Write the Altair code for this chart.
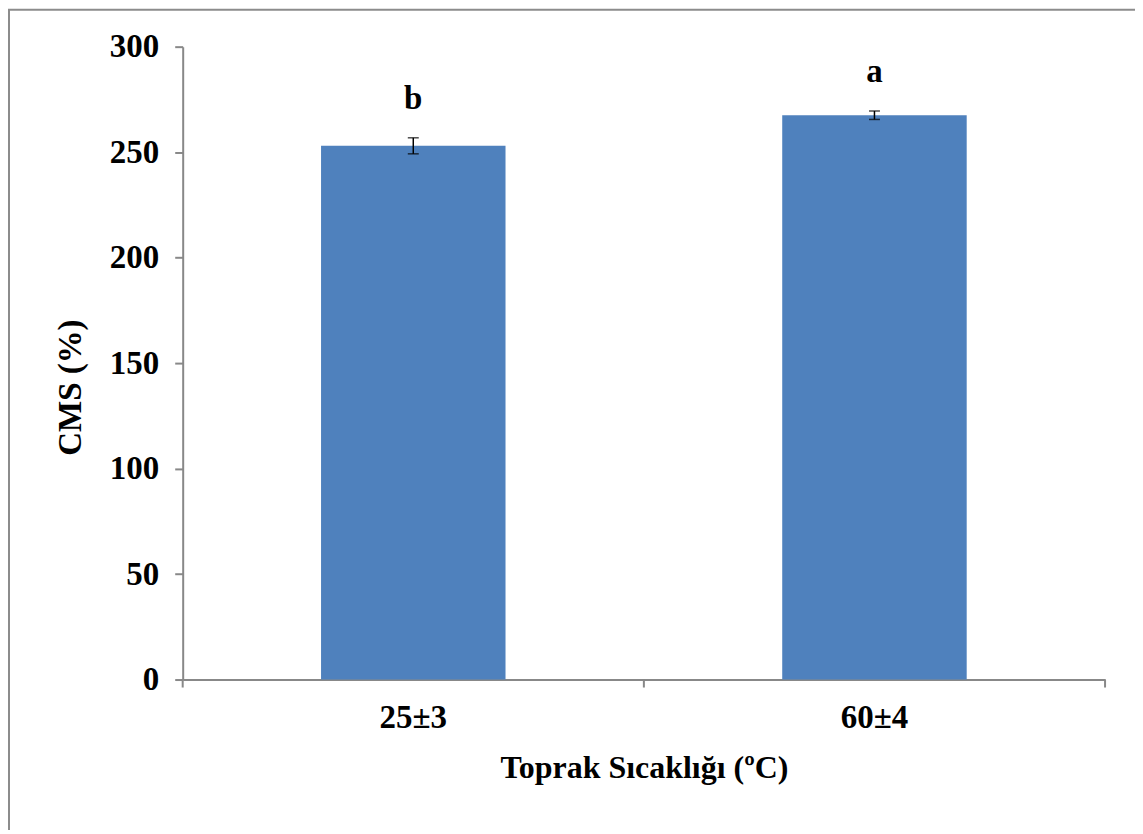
import altair as alt
import pandas as pd

categories = ["25±3", "60±4"]
means = [253.0, 267.5]
errors = [3.8, 2.0]
letters = ["b", "a"]

df = pd.DataFrame({"cat": categories, "mean": means, "err": errors, "letter": letters})
df["lo"] = df["mean"] - df["err"]
df["hi"] = df["mean"] + df["err"]

FONT = "Liberation Serif"
GREY = "#888888"
W, H = 924, 634

xscale = alt.Scale(domain=categories, paddingInner=0.6, paddingOuter=0.3)
yscale = alt.Scale(domain=[0, 300])
xs = alt.X("cat:N", scale=xscale, sort=categories)

bars = alt.Chart(df).mark_bar(color="#4F81BD").encode(
    x=alt.X("cat:N", scale=xscale, sort=categories,
            axis=alt.Axis(title="Toprak Sıcaklığı (ºC)", labelAngle=0, ticks=False,
                          labelPadding=22, titlePadding=18, titleFontSize=32)),
    y=alt.Y("mean:Q", scale=yscale,
            axis=alt.Axis(title="CMS (%)", values=[0, 50, 100, 150, 200, 250, 300],
                          tickSize=8, labelPadding=16, titlePadding=22, grid=False,
                          titleY=341)),
)

err = alt.Chart(df).mark_rule(color="black", strokeWidth=1.5).encode(x=xs, y="lo:Q", y2="hi:Q")
caps_hi = alt.Chart(df).mark_tick(color="black", orient="horizontal", size=11, thickness=1.5).encode(
    x=xs, y="hi:Q")
caps_lo = alt.Chart(df).mark_tick(color="black", orient="horizontal", size=11, thickness=1.5).encode(
    x=xs, y="lo:Q")
labels = alt.Chart(df).mark_text(font=FONT, fontWeight="bold", fontSize=33, dy=-29,
                                 baseline="alphabetic", color="black").encode(
    x=xs, y="hi:Q", text="letter:N")

# category-boundary tick marks on the x axis (Excel style)
xticks = [
    alt.Chart(df.head(1)).mark_rule(color=GREY, strokeWidth=2).encode(
        x=alt.value(px), y=alt.value(H), y2=alt.value(H + 8))
    for px in (0, W / 2, W)
]

frame = alt.Chart(df.head(1)).mark_rect(fill=None, stroke="#8c8c8c", strokeWidth=2).encode(
    x=alt.value(-174), x2=alt.value(958), y=alt.value(-37), y2=alt.value(790))

chart = alt.layer(frame, bars, err, caps_hi, caps_lo, labels, *xticks).properties(
    width=W, height=H,
    autosize=alt.AutoSizeParams(type="none"),
    padding={"left": 175, "top": 38, "right": 30, "bottom": 150},
).configure_view(stroke=None).configure_axis(
    domainColor=GREY, tickColor=GREY, domainWidth=2, tickWidth=2,
    labelFont=FONT, titleFont=FONT, labelFontSize=33, titleFontSize=33,
    labelFontWeight="bold", titleFontWeight="bold", labelColor="black", titleColor="black",
)

chart.save("out.html", embed_options={"renderer": "svg", "actions": False})
